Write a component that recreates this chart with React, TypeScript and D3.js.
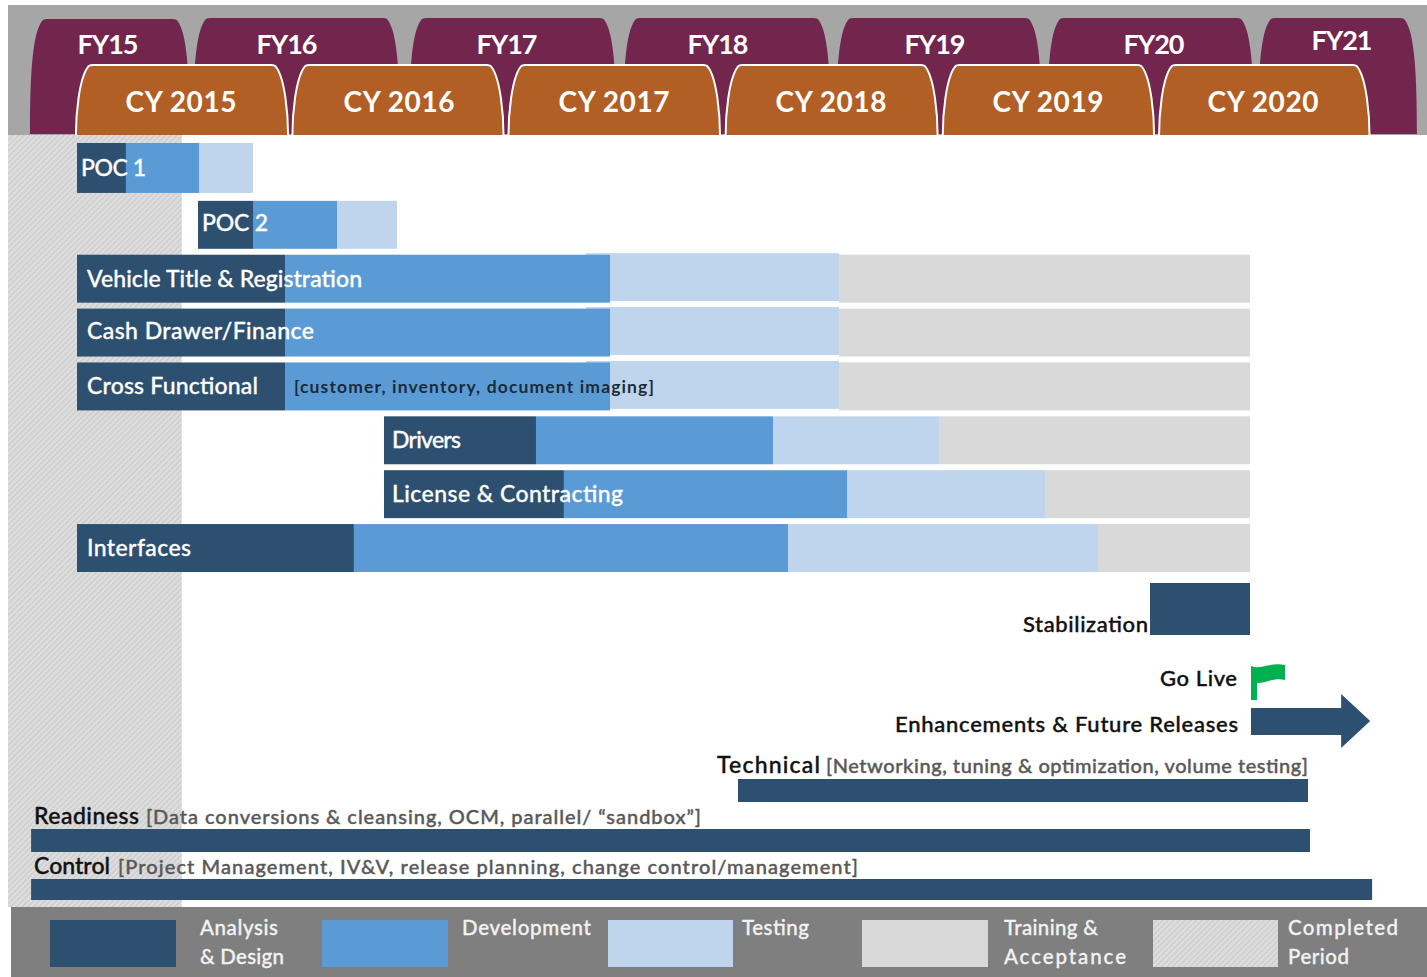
import * as d3 from 'd3';

const W = 1427;
const H = 977;

const NAVY = '#2e5070';
const BLUE = '#5b9bd5';
const PALE = '#bfd5ee';
const GREY = '#d9d9d9';
const FONT = 'Lato, "Open Sans", sans-serif';

// calendar position, in years
const x = d3.scaleLinear().domain([2015, 2021]).range([77, 1376]);

const fyLabels = ['FY15', 'FY16', 'FY17', 'FY18', 'FY19', 'FY20', 'FY21'];
const fyStart = [2014.783, 2015.536, 2016.534, 2017.522, 2018.506, 2019.481, 2020.455];
const fyEnd = [2015.52, 2016.491, 2017.491, 2018.481, 2019.456, 2020.436, 2021.189];
const fyText = [108, 287, 507, 718, 935, 1154, 1342];

const cyLabels = ['CY 2015', 'CY 2016', 'CY 2017', 'CY 2018', 'CY 2019', 'CY 2020'];
const cyStart = [2014.995, 2015.995, 2016.993, 2017.996, 2018.999, 2019.998];
const cyEnd = [2015.975, 2016.97, 2017.97, 2018.975, 2019.975, 2020.97];
const cyText = [181, 399, 614, 831, 1048, 1263];

const taskNames = [
  'POC 1',
  'POC 2',
  'Vehicle Title & Registration',
  'Cash Drawer/Finance',
  'Cross Functional',
  'Drivers',
  'License & Contracting',
  'Interfaces',
];
const taskStart = [2015, 2015.559, 2015, 2015, 2015, 2016.418, 2016.418, 2015];
const analysisEnd = [2015.226, 2015.813, 2015.961, 2015.961, 2015.961, 2017.12, 2017.249, 2016.279];
const devEnd = [2015.564, 2016.201, 2017.462, 2017.462, 2017.462, 2018.215, 2018.557, 2018.284];
const testStart = [2015.564, 2016.201, 2017.351, 2017.351, 2017.351, 2018.215, 2018.557, 2018.284];
const testEnd = [2015.813, 2016.478, 2018.52, 2018.52, 2018.52, 2018.982, 2019.471, 2019.716];
const trainEnd = [2015.813, 2016.478, 2020.418, 2020.418, 2020.418, 2020.418, 2020.418, 2020.418];
const labelWidth = [65, 66, 275, 227, 171, 69, 231, 104];
const labelNudge = [0, -1.5, 0, -2, 0, 0, 0, 0];

const y = d3.scaleBand<string>().domain(taskNames).range([147, 572]).paddingInner(0.11);

const wideBars = [
  { name: 'Technical', note: '[Networking, tuning & optimization, volume testing]', from: 2018.053, to: 2020.686 },
  { name: 'Readiness', note: '[Data conversions & cleansing, OCM, parallel/ \u201csandbox\u201d]', from: 2014.788, to: 2020.695 },
  { name: 'Control', note: '[Project Management, IV&V, release planning, change control/management]', from: 2014.788, to: 2020.982 },
];

const stabilization = [2019.956, 2020.418];
const goLive = 2020.418;
const releases = [2020.418, 2020.973];
const completedUntil = 2015.484;

const legendNames = [
  ['Analysis', '& Design'],
  ['Development'],
  ['Testing'],
  ['Training &', 'Acceptance'],
  ['Completed', 'Period'],
];
const legendTextW = [
  [78, 84],
  [129],
  [67],
  [94, 122],
  [110, 61],
];
const legendColors = [NAVY, BLUE, PALE, GREY, 'url(#hatch)'];
const legendX = [50, 322, 608, 862, 1153];
const legendTextX = [200, 462, 742, 1004, 1288];
const legendW = [126, 126, 125, 126, 125];

// rounded-shoulder tab
function tab(x0: number, x1: number, top: number, bottom: number) {
  const p = d3.path();
  const sh = 12;
  p.moveTo(x0, bottom);
  p.bezierCurveTo(x0, top + 50, x0 + 3, top + 14, x0 + sh, top + 2);
  p.quadraticCurveTo(x0 + sh + 1, top, x0 + sh + 5, top);
  p.lineTo(x1 - sh - 5, top);
  p.quadraticCurveTo(x1 - sh - 1, top, x1 - sh, top + 2);
  p.bezierCurveTo(x1 - 3, top + 14, x1, top + 50, x1, bottom);
  return p.toString();
}

function flag(x0: number) {
  const p = d3.path();
  p.moveTo(x0, 666);
  p.bezierCurveTo(x0 + 10, 670, x0 + 18, 662, x0 + 34, 665);
  p.lineTo(x0 + 34, 680);
  p.bezierCurveTo(x0 + 22, 677, x0 + 14, 684, x0 + 6, 683);
  p.lineTo(x0 + 6, 700);
  p.lineTo(x0, 700);
  p.closePath();
  return p.toString();
}

function arrow(x0: number, x1: number) {
  const head = x1 - 29;
  return d3.line()([[x0, 708], [head, 708], [head, 694], [x1, 721], [head, 748], [head, 735], [x0, 735]]) + 'Z';
}

export default function App() {
  const rowTop = (i: number) => (i === 0 ? y(taskNames[i])! - 4 : y(taskNames[i])!);
  const rowH = (i: number) => (i === 0 ? y.bandwidth() + 2 : y.bandwidth());
  // rows 2-4 have the testing block sitting slightly high
  const testShift = (i: number) => (i >= 2 && i <= 4 ? -1.5 : 0);

  return (
    <svg
      width={W}
      height={H}
      viewBox={`0 0 ${W} ${H}`}
      style={{ position: 'absolute', left: 0, top: 0, background: '#fff' }}
      fontFamily={FONT}
    >
      <defs>
        <pattern id="hatch" width="4" height="4" patternUnits="userSpaceOnUse" patternTransform="rotate(-45)">
          <rect width="4" height="4" fill="#dedede" />
          <rect width="4" height="1.5" fill="#cccccc" />
        </pattern>
      </defs>

      {/* completed period */}
      <rect x={8} y={135} width={x(completedUntil) - 8} height={772} fill="url(#hatch)" />

      {/* header */}
      <rect x={8} y={5} width={W - 8} height={130} fill="#a6a6a6" />
      {fyLabels.map((d, i) => (
        <g key={d}>
          <path d={tab(x(fyStart[i]), x(fyEnd[i]), i === 0 ? 19 : 18, 134)} fill="#72264e" />
          <text
            x={fyText[i]}
            y={d === 'FY21' ? 50 : 54}
            textAnchor="middle"
            fontSize={27}
            fontWeight={700}
            fill="#fff"
            textLength={61}
          >
            {d}
          </text>
        </g>
      ))}
      {cyLabels.map((d, i) => (
        <g key={d}>
          <path d={tab(x(cyStart[i]), x(cyEnd[i]), 65, 135)} fill="#b25f25" stroke="#fff" strokeWidth={2} />
          <text x={cyText[i]} y={111.5} textAnchor="middle" fontSize={28} fontWeight={700} fill="#fff" textLength={111}>
            {d}
          </text>
        </g>
      ))}

      {/* task bars */}
      {taskNames.map((name, i) => (
        <g key={name}>
          <rect x={x(testEnd[i])} y={rowTop(i)} width={x(trainEnd[i]) - x(testEnd[i])} height={rowH(i)} fill={GREY} />
          <rect
            x={x(testStart[i])}
            y={rowTop(i) + testShift(i)}
            width={x(testEnd[i]) - x(testStart[i])}
            height={rowH(i)}
            fill={PALE}
          />
          <rect x={x(analysisEnd[i])} y={rowTop(i)} width={x(devEnd[i]) - x(analysisEnd[i])} height={rowH(i)} fill={BLUE} />
          <rect x={x(taskStart[i])} y={rowTop(i)} width={x(analysisEnd[i]) - x(taskStart[i])} height={rowH(i)} fill={NAVY} />
          <text
            x={x(taskStart[i]) + (i < 2 ? 4 : i === 5 || i === 6 ? 8 : 10)}
            y={rowTop(i) + rowH(i) / 2 + 8 + labelNudge[i]}
            fontSize={23}
            fontWeight={500}
            fill="#fff"
            stroke="#fff"
            strokeWidth={0.3}
            textLength={labelWidth[i]}
          >
            {name}
          </text>
        </g>
      ))}
      <text x={294} y={393} fontSize={17.5} fontWeight={700} fill="#1c2b3a" textLength={360}>
        [customer, inventory, document imaging]
      </text>

      {/* stabilization, go live, releases */}
      <rect x={x(stabilization[0])} y={583} width={x(stabilization[1]) - x(stabilization[0])} height={52} fill={NAVY} />
      <g fontSize={22} fontWeight={500} fill="#111" stroke="#111" strokeWidth={0.4} textAnchor="end">
        <text x={1148} y={632} textLength={125}>Stabilization</text>
        <text x={1237} y={686} textLength={77}>Go Live</text>
        <text x={1238} y={732} textLength={343}>Enhancements &amp; Future Releases</text>
      </g>
      <path d={flag(x(goLive) + 1)} fill="#00b050" />
      <path d={arrow(x(releases[0]) + 1, x(releases[1]))} fill={NAVY} />

      {/* wide bars */}
      <rect x={x(wideBars[0].from)} y={779} width={x(wideBars[0].to) - x(wideBars[0].from)} height={23} fill={NAVY} />
      <rect x={x(wideBars[1].from)} y={829} width={x(wideBars[1].to) - x(wideBars[1].from)} height={23} fill={NAVY} />
      <rect x={x(wideBars[2].from)} y={879} width={x(wideBars[2].to) - x(wideBars[2].from)} height={21} fill={NAVY} />

      <g fontSize={23} fontWeight={500} fill="#111" stroke="#111" strokeWidth={0.4}>
        <text x={717} y={773} textLength={103}>{wideBars[0].name}</text>
        <text x={34} y={824} textLength={105}>{wideBars[1].name}</text>
        <text x={34} y={874} textLength={76}>{wideBars[2].name}</text>
      </g>
      <g fontSize={20} fontWeight={500} fill="#595959" stroke="#595959" strokeWidth={0.4}>
        <text x={826} y={773} textLength={482}>{wideBars[0].note}</text>
        <text x={146} y={824} textLength={555}>{wideBars[1].note}</text>
        <text x={118} y={874} textLength={740}>{wideBars[2].note}</text>
      </g>

      {/* legend */}
      <rect x={11} y={907} width={W - 11} height={70} fill="#7f7f7f" />
      {legendNames.map((lines, i) => (
        <g key={lines[0]}>
          <rect x={legendX[i]} y={920} width={legendW[i]} height={47} fill={legendColors[i]} />
          {lines.map((t, j) => (
            <text
              key={t}
              x={legendTextX[i]}
              y={935 + j * 29}
              fontSize={20.5}
              fontWeight={500}
              fill="#f2f2f2"
              stroke="#f2f2f2"
              strokeWidth={0.3}
              textLength={legendTextW[i][j]}
            >
              {t}
            </text>
          ))}
        </g>
      ))}
    </svg>
  );
}
